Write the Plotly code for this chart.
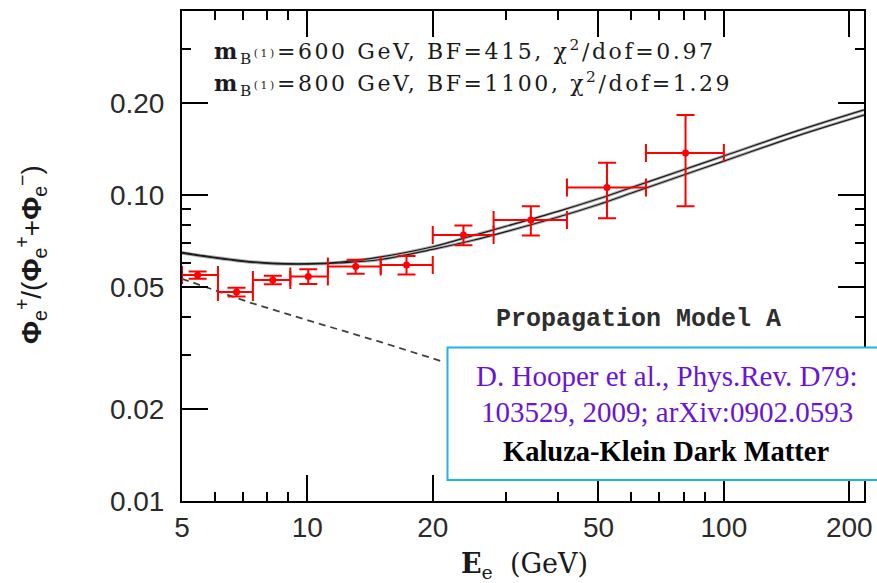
import numpy as np
import plotly.graph_objects as go

# PAMELA positron fraction: bin centres, bin edges, values and errors
e_center = [5.45, 6.76, 8.26, 10.05, 13.06, 17.3, 23.7, 34.4, 52.4, 80.9]
e_low = [5.0, 6.1, 7.4, 9.1, 11.2, 15.0, 20.0, 28.0, 42.0, 65.0]
e_high = [6.1, 7.4, 9.1, 11.2, 15.0, 20.0, 28.0, 42.0, 65.0, 100.0]
frac = [0.0548, 0.0482, 0.0528, 0.0542, 0.0584, 0.0591, 0.0741, 0.0829, 0.1059, 0.1374]
frac_err = [0.0015, 0.0016, 0.0017, 0.0030, 0.0031, 0.0041, 0.0055, 0.0091, 0.0218, 0.0455]

# Kaluza-Klein model predictions (two B(1) masses)
model_e = [5, 6, 7, 8, 9, 10, 12, 15, 20, 25, 30, 40, 50, 60, 80, 100, 150, 217]
model_a = [0.0650, 0.0626, 0.0610, 0.0601, 0.0597, 0.0597, 0.0604, 0.0628, 0.0678,
           0.0738, 0.0791, 0.0885, 0.0973, 0.1059, 0.1211, 0.1343, 0.1622, 0.1900]
model_b = [0.0646, 0.0623, 0.0607, 0.0598, 0.0595, 0.0595, 0.0600, 0.0616, 0.0665,
           0.0712, 0.0760, 0.0848, 0.0932, 0.1016, 0.1164, 0.1292, 0.1563, 0.1828]

# secondary (background) positron fraction
bg_e = [5.0, 7.22, 10.4, 15.1, 21.4]
bg_frac = [0.0533, 0.0447, 0.0384, 0.0330, 0.0284]

x_ticks = [5, 10, 20, 50, 100, 200]
x_labels = ["5", "10", "20", "50", "100", "200"]
x_minor = [6, 7, 8, 9, 30, 40, 60, 70, 80, 90]
y_ticks = [0.01, 0.02, 0.05, 0.1, 0.2]
y_labels = ["0.01", "0.02", "0.05", "0.10", "0.20"]
y_minor = [0.03, 0.04, 0.06, 0.07, 0.08, 0.09, 0.3]

W, H = 877, 583
L, R, T, B = 182, 13, 11, 82
PW, PH = W - L - R, H - T - B


def px(x):
    return (x - L) / PW


def py(y):
    return (H - B - y) / PH


fig = go.Figure()

# background curve (dashed)
fig.add_trace(go.Scatter(x=bg_e, y=bg_frac, mode="lines",
                         line=dict(color="#404040", width=1.8, dash="7px,5px"),
                         hoverinfo="skip"))

# model curves: thin grey halo with dark core
for ys in (model_a, model_b):
    fig.add_trace(go.Scatter(x=model_e, y=ys, mode="lines",
                             line=dict(color="#b0b0b0", width=3.0, shape="spline", smoothing=1.0),
                             hoverinfo="skip"))
for ys in (model_a, model_b):
    fig.add_trace(go.Scatter(x=model_e, y=ys, mode="lines",
                             line=dict(color="#1a1a1a", width=1.2, shape="spline", smoothing=1.0),
                             hoverinfo="skip"))

# data points
fig.add_trace(go.Scatter(
    x=e_center, y=frac, mode="markers",
    marker=dict(color="#ff0000", size=7, symbol="circle"),
    error_x=dict(type="data", symmetric=False,
                 array=[h - c for h, c in zip(e_high, e_center)],
                 arrayminus=[c - l for c, l in zip(e_center, e_low)],
                 color="#ff0000", thickness=2, width=9),
    error_y=dict(type="data", array=frac_err, color="#ff0000", thickness=2, width=9),
))

axis_common = dict(
    type="log", showline=True, linewidth=2, linecolor="black", mirror="ticks",
    ticks="inside", ticklen=26, tickwidth=2, tickcolor="black",
    showgrid=False, zeroline=False, automargin=False,
    tickfont=dict(family="Liberation Sans, Arial, sans-serif", size=28, color="#2a2a2a"),
)
fig.update_xaxes(range=[np.log10(5), np.log10(217)], tickvals=x_ticks, ticktext=x_labels,
                 minor=dict(tickvals=x_minor, ticks="inside", ticklen=9, tickwidth=2,
                            tickcolor="black", showgrid=False),
                 **axis_common)
fig.update_yaxes(range=[-2, np.log10(0.4)], tickvals=y_ticks, ticktext=y_labels,
                 ticklabelstandoff=10,
                 minor=dict(tickvals=y_minor, ticks="inside", ticklen=9, tickwidth=2,
                            tickcolor="black", showgrid=False),
                 **axis_common)

# reference box
fig.add_shape(type="rect", xref="paper", yref="paper",
              x0=px(447.5), x1=px(882), y0=py(480), y1=py(347.5),
              fillcolor="white", line=dict(color="#1fb3e6", width=2), layer="above")

serif = "DejaVu Serif, serif"
ann = []
spacing = "letter-spacing:2.6px"
ann.append(dict(
    text=f"<span style='{spacing}'><b>m</b><sub>B<sup>(1)</sup></sub>=600 GeV, BF=415, χ<sup>2</sup>/dof=0.97</span>",
    x=px(212), y=py(52), xanchor="left", yanchor="middle",
    font=dict(family=serif, size=22, color="#1a1a1a")))
ann.append(dict(
    text=f"<span style='{spacing}'><b>m</b><sub>B<sup>(1)</sup></sub>=800 GeV, BF=1100, χ<sup>2</sup>/dof=1.29</span>",
    x=px(212), y=py(84), xanchor="left", yanchor="middle",
    font=dict(family=serif, size=22, color="#1a1a1a")))
ann.append(dict(
    text="Propagation Model A", x=px(638.5), y=py(319), xanchor="center", yanchor="middle",
    font=dict(family="Liberation Mono, Courier New, monospace", size=25, color="#2e2e2e",
              weight="bold")))

times = "Liberation Serif, Times New Roman, serif"
purple = "#6a14d4"
ann.append(dict(text="D. Hooper et al., Phys.Rev. D79:", x=px(667), y=py(376),
                xanchor="center", yanchor="middle",
                font=dict(family=times, size=29, color=purple)))
ann.append(dict(text="103529, 2009; arXiv:0902.0593", x=px(667), y=py(411.5),
                xanchor="center", yanchor="middle",
                font=dict(family=times, size=29, color=purple)))
ann.append(dict(text="<b>Kaluza-Klein Dark Matter</b>", x=px(666), y=py(451),
                xanchor="center", yanchor="middle",
                font=dict(family=times, size=28.5, color="black")))

# axis titles
ann.append(dict(text="<b>E</b><sub>e</sub>  (GeV)", x=px(524), y=py(565),
                xanchor="center", yanchor="middle",
                font=dict(family=serif, size=27, color="#1a1a1a")))
ann.append(dict(
    text="<b>Φ</b><sub>e</sub><sup>+</sup>/(<b>Φ</b><sub>e</sub><sup>+</sup>+<b>Φ</b><sub>e</sub><sup>−</sup>)",
    x=px(31), y=py(255), xanchor="center", yanchor="middle", textangle=-90,
    font=dict(family="Liberation Sans, Arial, sans-serif", size=28, color="#1a1a1a")))

for a in ann:
    a.update(xref="paper", yref="paper", showarrow=False)
fig.update_layout(annotations=ann)

fig.update_layout(width=W, height=H, margin=dict(l=L, r=R, t=T, b=B),
                  plot_bgcolor="white", paper_bgcolor="white", showlegend=False)

fig.write_html("out.html")
